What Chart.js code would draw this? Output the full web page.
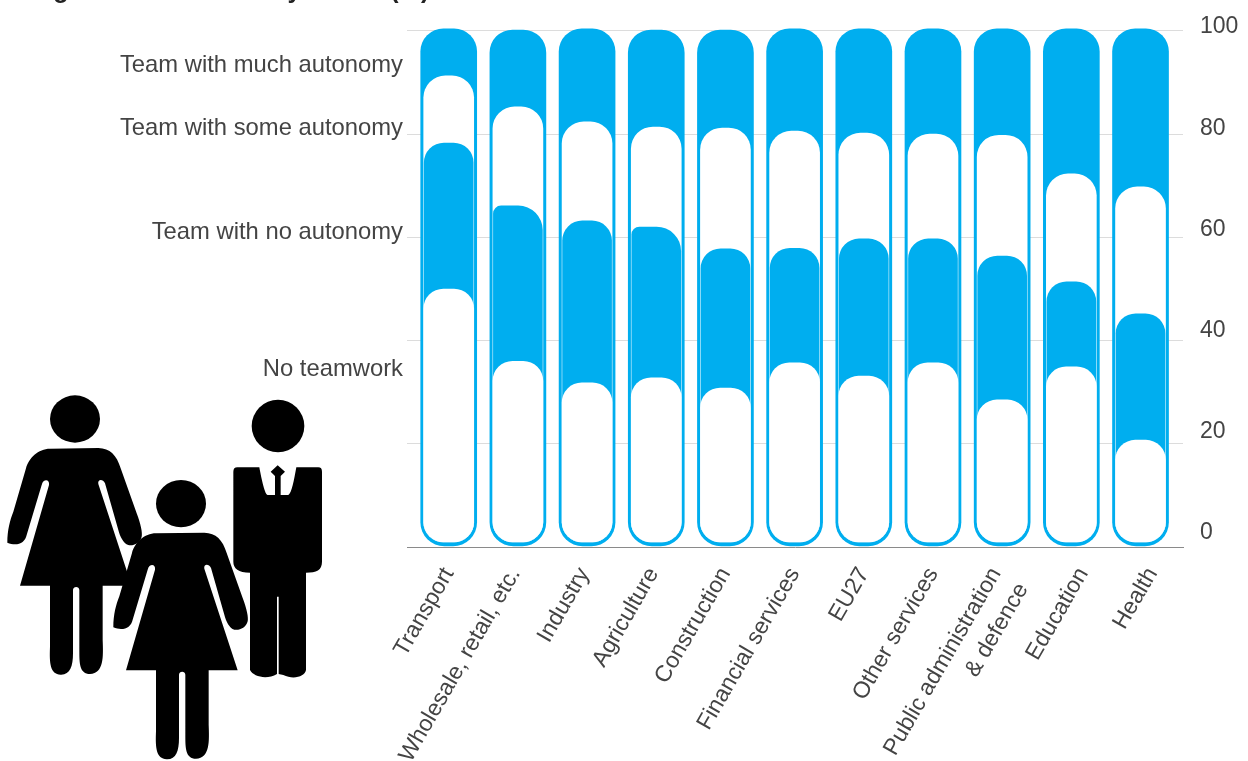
<!DOCTYPE html>
<html>
<head>
<meta charset="utf-8">
<title>Teamwork by sector</title>
<script src="https://cdn.jsdelivr.net/npm/chart.js@4"></script>
<style>
    html, body { margin: 0; padding: 0; background: #fff; overflow: hidden; }
    #wrap { position: relative; width: 1248px; height: 761px; overflow: hidden; }
    #titulo { position: absolute; left: 31px; top: -26px; font: bold 25px/30px "Liberation Sans", sans-serif; color: #222; white-space: nowrap; }
    #pessoas { position: absolute; left: 0; top: 380px; }
</style>
</head>
<body>
<div id="wrap">
    <canvas id="grafico" width="1248" height="761"></canvas>
    <div id="titulo">Figure 6: Teamwork by sector (%)</div>
    <svg id="pessoas" width="340" height="381" viewBox="0 0 1020 1143">
        <defs>
            <g id="mulher">
                <ellipse cx="225" cy="117" rx="75" ry="71"/>
                <path d="M150,206 L295,204 C330,205 350,225 362,265 L410,400 C422,430 428,460 425,470 C420,490 400,498 385,495 C370,490 360,470 355,450 L315,310 C308,295 292,298 295,312 L395,617 L308,617 L308,780 C310,830 312,880 270,882 C238,882 238,850 238,810 L238,630 C238,618 219,618 219,630 L219,820 C219,860 210,885 182,884 C150,882 148,850 150,800 L150,617 L60,617 L147,315 C150,298 130,295 125,315 L80,465 C75,490 50,500 22,488 C22,450 30,420 40,395 L78,265 C85,235 115,206 150,206 Z"/>
            </g>
        </defs>
        <use href="#mulher"/>
        <use href="#mulher" x="318" y="254"/>
        <circle cx="834" cy="138" r="79"/>
        <path d="M700,275 Q700,262 712,262 L778,262 C785,300 795,345 803,345 L825,345 L825,288 L812,275 L833,256 L855,275 L842,288 L842,345 L865,345 C875,340 882,300 889,262 L955,262 Q966,262 966,275 L966,545 C966,570 950,578 918,578 L918,870 C915,890 880,900 850,885 L836,882 L836,650 L831,650 L831,882 C800,900 760,890 750,870 L750,578 C715,578 700,565 700,545 Z"/>
    </svg>
</div>
<script>
// Dados
const categorias = ['Transport', 'Wholesale, retail, etc.', 'Industry', 'Agriculture', 'Construction', 'Financial services', 'EU27', 'Other services', ['Public administration', '& defence'], 'Education', 'Health'];
const series = ['No teamwork', 'Team with no autonomy', 'Team with some autonomy', 'Team with much autonomy'];
const semEquipa = [50, 36, 31.8, 32.8, 30.8, 35.7, 33.1, 35.7, 28.5, 34.9, 20.7];
const semAutonomia = [78.3, 66.1, 63.2, 62, 57.8, 57.9, 59.7, 59.7, 56.4, 51.4, 45.2];
const algumaAutonomia = [91.3, 85.3, 82.4, 81.4, 81.2, 80.6, 80.2, 80, 79.8, 72.3, 69.8];
const muitaAutonomia = [100.4, 100.2, 100.4, 100.2, 100.2, 100.4, 100.4, 100.4, 100.4, 100.4, 100.4];
const marcasY = [0, 20, 40, 60, 80, 100];

const AZUL = '#00aeef';
const BRANCO = '#ffffff';
const TEXTO = '#444444';
const FONTE = "'Liberation Sans', sans-serif";

const pontos = (arr) => arr.map((y, x) => ({ x, y }));

// Alguns rótulos do eixo x estão um pouco deslocados em relação à barra
const ajusteRotulo = [0, -0.04, -0.04, -0.04, 0, 0, 0, 0, -0.09, 0.17, 0.17];

// Raio do topo: alguns blocos azuis têm o canto esquerdo quase reto
function raio(r, base, assimetrico) {
    return (ctx) => {
        const torto = assimetrico && (ctx.dataIndex === 1 || ctx.dataIndex === 3);
        return { topLeft: torto ? 8 : r, topRight: torto ? 28 : r, bottomLeft: base, bottomRight: base };
    };
}

function camada(i, dados, cor, largura, r, base, inicio, assimetrico) {
    return {
        label: series[i],
        data: pontos(dados),
        backgroundColor: cor,
        barThickness: largura,
        grouped: false,
        borderSkipped: false,
        borderWidth: 0,
        borderRadius: raio(r, base, assimetrico),
        base: inicio,
    };
}

// Nomes das séries à esquerda, alinhados à direita
const rotulosSeries = {
    id: 'rotulosSeries',
    afterDraw(chart) {
        const { ctx } = chart;
        const ys = [369, 232, 128, 65];
        ctx.save();
        ctx.font = `23.8px ${FONTE}`;
        ctx.fillStyle = TEXTO;
        ctx.textAlign = 'right';
        ctx.textBaseline = 'middle';
        series.forEach((s, i) => ctx.fillText(s, 403, ys[i]));
        ctx.restore();
    },
};

new Chart(document.getElementById('grafico'), {
    type: 'bar',
    data: {
        datasets: [
            camada(0, semEquipa, BRANCO, 50, 20, 20, 1),
            camada(1, semAutonomia, AZUL, 49, 20, 20, 1, true),
            camada(2, algumaAutonomia, BRANCO, 50, 22, 20, 1),
            camada(3, muitaAutonomia, AZUL, 56, 23, 24, 0.2),
        ],
    },
    plugins: [rotulosSeries],
    options: {
        responsive: false,
        animation: false,
        layout: { padding: { left: 407, top: 15, right: 0, bottom: 0 } },
        plugins: { legend: { display: false }, title: { display: false }, tooltip: { enabled: false } },
        scales: {
            x: {
                type: 'linear',
                offset: false,
                min: -0.603,
                max: 10.614,
                afterBuildTicks: (axis) => { axis.ticks = categorias.map((_, i) => ({ value: i + ajusteRotulo[i] })); },
                afterFit: (axis) => { axis.height = 214; axis.paddingLeft = 0; axis.paddingRight = 0; },
                grid: { display: false, drawTicks: false, offset: false },
                border: { color: '#8a8a8a', width: 1 },
                ticks: {
                    callback: (v) => categorias[Math.round(v)],
                    autoSkip: false,
                    minRotation: 60,
                    maxRotation: 60,
                    padding: 15,
                    color: TEXTO,
                    font: { family: FONTE, size: 23, lineHeight: 1.35 },
                },
            },
            y: {
                position: 'right',
                min: 0,
                max: 103.1,
                afterBuildTicks: (axis) => { axis.ticks = marcasY.map((value) => ({ value })); },
                afterFit: (axis) => { axis.width = 0; axis.paddingTop = 0; axis.paddingBottom = 0; },
                grid: { color: (c) => (c.tick.value === 0 ? 'transparent' : '#dcdcdc'), drawTicks: false },
                border: { display: false },
                ticks: { display: false },
            },
            // Os números da direita não caem sobre as linhas de grade, por isso têm eixo próprio
            y2: {
                position: 'right',
                min: -2.76,
                max: 102.38,
                afterBuildTicks: (axis) => { axis.ticks = marcasY.map((value) => ({ value })); },
                afterFit: (axis) => { axis.width = 65; axis.paddingTop = 0; axis.paddingBottom = 0; },
                grid: { display: false, drawTicks: false },
                border: { display: false },
                ticks: {
                    padding: 17,
                    color: TEXTO,
                    font: { family: FONTE, size: 23 },
                },
            },
        },
    },
});
</script>
</body>
</html>
